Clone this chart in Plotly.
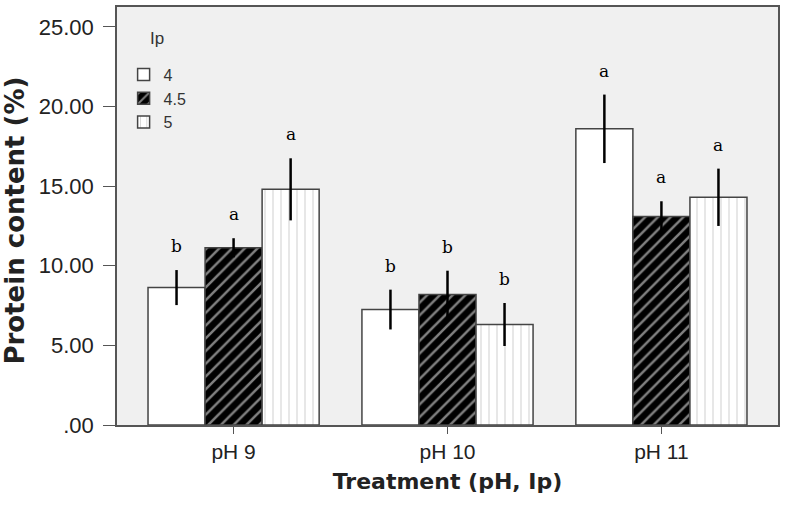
import plotly.graph_objects as go

categories = ["pH 9", "pH 10", "pH 11"]
series_names = ["4", "4.5", "5"]
values = {
    "4": [8.63, 7.25, 18.6],
    "4.5": [11.13, 8.19, 13.1],
    "5": [14.8, 6.31, 14.3],
}
errors = {
    "4": [1.1, 1.25, 2.15],
    "4.5": [0.6, 1.5, 0.95],
    "5": [1.95, 1.35, 1.8],
}
letters = {
    "4": ["b", "b", "a"],
    "4.5": ["a", "b", "a"],
    "5": ["a", "b", "a"],
}
ytick_vals = [0, 5, 10, 15, 20, 25]
ytick_text = [".00", "5.00", "10.00", "15.00", "20.00", "25.00"]
y_title = "Protein content (%)"
x_title = "Treatment (pH, Ip)"
legend_title = "Ip"

styles = {
    "4": dict(color="white", pattern=dict(shape="")),
    "4.5": dict(color="black", pattern=dict(shape="/", fgcolor="white", bgcolor="black",
                                            size=9, solidity=0.28, fillmode="overlay")),
    "5": dict(color="white", pattern=dict(shape="|", fgcolor="#999999", bgcolor="white",
                                          size=8, solidity=0.12, fillmode="overlay")),
}

fig = go.Figure()
for name in series_names:
    st = styles[name]
    fig.add_trace(go.Bar(
        name=name, x=categories, y=values[name],
        marker=dict(color=st["color"], line=dict(color="#444444", width=1.5),
                    pattern=st["pattern"]),
        error_y=dict(type="data", array=errors[name], color="black",
                     thickness=2.5, width=0),
    ))

bar_w = 0.8 / 3
for i, name in enumerate(series_names):
    off = (i - 1) * bar_w
    for j, cat in enumerate(categories):
        fig.add_annotation(
            x=j + off, y=values[name][j] + errors[name][j], text=letters[name][j],
            showarrow=False, yanchor="bottom", yshift=12,
            font=dict(family="DejaVu Serif", size=17, color="black"),
        )

# y-axis title as annotation (placed as in the original)
fig.add_annotation(
    xref="paper", yref="paper", x=-0.155, y=0.488, text="<b>" + y_title + "</b>",
    textangle=-90, showarrow=False, xanchor="center", yanchor="middle",
    font=dict(family="DejaVu Sans", size=26, color="#222222"),
)
# legend title
fig.add_annotation(
    xref="paper", yref="paper", x=0.0605, y=0.924, text=legend_title,
    showarrow=False, xanchor="center", yanchor="middle",
    font=dict(family="Liberation Sans, Arial", size=17, color="#333333"),
)

fig.update_layout(
    width=786, height=513,
    margin=dict(l=117, r=8, t=5, b=88),
    paper_bgcolor="white", plot_bgcolor="#f0f0f0",
    barmode="group", bargap=0.2, bargroupgap=0,
    font=dict(family="Liberation Sans, Arial", color="#222222"),
    legend=dict(
        x=0.01, y=0.879, xanchor="left", yanchor="top",
        bgcolor="rgba(0,0,0,0)", font=dict(size=16, color="#333333"),
        itemwidth=30, tracegroupgap=0,
    ),
    showlegend=True,
)
fig.update_xaxes(
    range=[-0.545, 2.545], showline=True, mirror=True, linecolor="#555555", linewidth=1.5,
    ticks="outside", ticklen=7, tickcolor="#555555", tickfont=dict(size=21, color="#222222"),
    title=dict(text="<b>" + x_title + "</b>",
               font=dict(family="DejaVu Sans", size=22, color="#222222"), standoff=12),
    showgrid=False,
)
fig.update_yaxes(
    range=[0, 26.25], tickvals=ytick_vals, ticktext=ytick_text,
    showline=True, mirror=True, linecolor="#555555", linewidth=1.5,
    ticks="outside", ticklen=12, tickcolor="#555555", tickfont=dict(size=22, color="#222222"),
    ticklabelstandoff=5,
    showgrid=False, zeroline=False,
)

fig.write_html("out.html", post_script="document.body.style.margin='0';",
               config={"displayModeBar": False})
